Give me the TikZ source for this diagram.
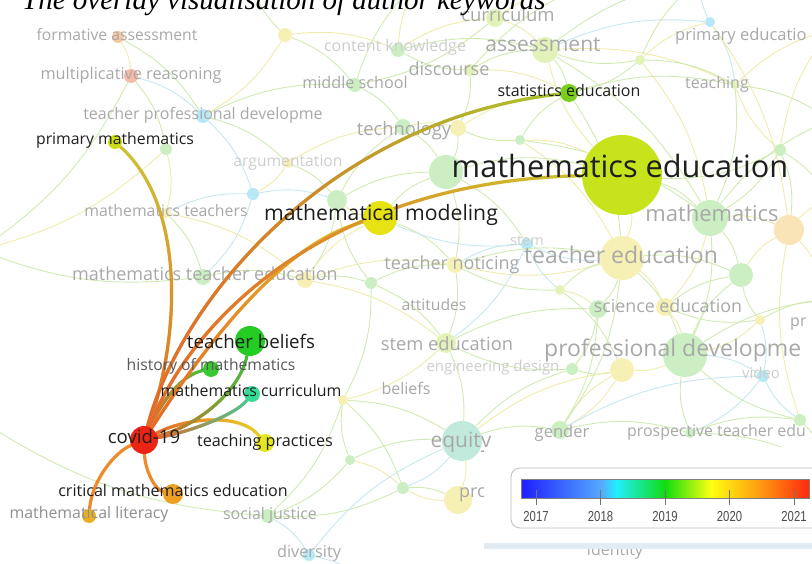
\documentclass[tikz,border=0pt]{standalone}
\usepackage{fontspec}
\setmainfont{Open Sans}
\newfontfamily\titlefont{Liberation Serif}
\newfontfamily\yearfont[FakeStretch=0.78]{Liberation Sans}
\usetikzlibrary{fadings}

% keyword colours (overlay years)
\definecolor{keyblack}{HTML}{1E1E1E}
\definecolor{fadegray}{HTML}{A8A8A8}
\definecolor{palegray}{HTML}{CDCDCD}
\definecolor{mathedlime}{HTML}{C6E31C}
\definecolor{modelyellow}{HTML}{E6E214}
\definecolor{statgreen}{HTML}{7ACF1E}
\definecolor{primlime}{HTML}{CCDC14}
\definecolor{beliefgreen}{HTML}{24CC24}
\definecolor{histgreen}{HTML}{38C830}
\definecolor{curteal}{HTML}{36DC96}
\definecolor{covidred}{HTML}{EC2414}
\definecolor{practyellow}{HTML}{E6E620}
\definecolor{critorange}{HTML}{EEA024}
\definecolor{litorange}{HTML}{E8B020}
% link ends
\definecolor{covidlink}{HTML}{E8682C}
\definecolor{primlink}{HTML}{CCC432}
\definecolor{statlink}{HTML}{A8C62C}
\definecolor{modellink}{HTML}{E2C82A}
\definecolor{mathedlink}{HTML}{CCC42A}
\definecolor{belieflink}{HTML}{44BE3A}
\definecolor{histlink}{HTML}{44C23C}
\definecolor{currlink}{HTML}{48C890}
\definecolor{practlink}{HTML}{E6D224}
\definecolor{critlink}{HTML}{EC8A2C}
% faded keywords
\definecolor{fadegreen}{HTML}{CBEFC2}
\definecolor{fadeyellow}{HTML}{F7F0B4}
\definecolor{fadecyan}{HTML}{B6E8F6}
\definecolor{fadeorange}{HTML}{F8C8A2}
\definecolor{fadesalmon}{HTML}{F6BAA8}
\definecolor{fadelime}{HTML}{E2F2B8}
\definecolor{fadeteal}{HTML}{C2EADC}
\definecolor{fadepeach}{HTML}{F8E4B6}
\definecolor{netgreen}{HTML}{D0EAB2}
\definecolor{netyellow}{HTML}{EFEBAC}
\definecolor{netcyan}{HTML}{C8E6F0}
% legend
\definecolor{barblue}{HTML}{1E1EFF}
\definecolor{barsky}{HTML}{55AAFF}
\definecolor{barcyan}{HTML}{22EEFF}
\definecolor{bargreen}{HTML}{10DC10}
\definecolor{baryellow}{HTML}{FFFF10}
\definecolor{barorange}{HTML}{FF9A10}
\definecolor{barred}{HTML}{FF2810}
\definecolor{stripblue}{HTML}{E2EAF2}

\pgfdeclarehorizontalshading{overlay}{100bp}{color(0bp)=(barblue); color(25bp)=(barblue); color(39bp)=(barsky); color(41.5bp)=(barcyan); color(50bp)=(bargreen); color(58bp)=(baryellow); color(66.5bp)=(barorange); color(75bp)=(barred); color(100bp)=(barred)}

\tikzfading[name=linkfade right, left color=transparent!0, right color=transparent!100]
\tikzfading[name=linkfade up, bottom color=transparent!0, top color=transparent!100]

\pgfdeclarelayer{net}
\pgfdeclarelayer{links}
\pgfsetlayers{net,links,main}

\begin{document}
\begin{tikzpicture}[
    x=1pt, y=-1pt,
    hub/.style={circle, inner sep=0pt, minimum size=#1},
    kw/.style={text=keyblack, inner sep=0pt, text height=1.5ex, text depth=0.25ex,
        font=\fontsize{#1}{#1}\selectfont},
    faded/.style={text=fadegray, inner sep=0pt, text height=1.5ex, text depth=0.25ex,
        font=\fontsize{#1}{#1}\selectfont},
    link/.style={line width=3.2pt, draw=#1, line cap=round},
    net/.style={line width=0.9pt, draw=#1},
    yearlbl/.style={text=black!70, inner sep=0pt, font=\yearfont\fontsize{14.5}{14.5}\selectfont},
    ]
    \useasboundingbox (0,0) rectangle (812,564);

    % title, cut at the top edge
    \node[anchor=base west, inner sep=0pt, font=\titlefont\itshape\fontsize{29}{29}\selectfont]
        (title) at (22,10) {The overlay visualisation of author keywords};

    % highlighted keywords
    \node[hub=80, fill=mathedlime] (mathed) at (622,175) {};
    \node[hub=34, fill=modelyellow] (model) at (380,218) {};
    \node[hub=18, fill=statgreen] (stat) at (569,93) {};
    \node[hub=14, fill=primlime] (prim) at (115,142) {};
    \node[hub=30, fill=beliefgreen] (belief) at (250,341) {};
    \node[hub=16, fill=histgreen] (hist) at (211,369) {};
    \node[hub=16, fill=curteal] (curr) at (252,394) {};
    \node[hub=28, fill=covidred] (covid) at (144,440) {};
    \node[hub=18, fill=practyellow] (pract) at (265,443) {};
    \node[hub=20, fill=critorange] (crit) at (173,494) {};
    \node[hub=14, fill=litorange] (lit) at (89,516) {};

    % links of covid-19, orange at covid-19 fading into the other end
    \begin{pgfonlayer}{links}
    \draw[link=critlink] (covid) .. controls (115,452) and (92,480) .. (lit);
    \draw[link=critlink] (covid) .. controls (145,470) and (155,490) .. (crit);
    \draw[link=practlink] (covid) .. controls (185,418) and (240,412) .. (pract);
    \draw[link=covidlink, path fading=linkfade right] (covid) .. controls (185,418) and (240,412) .. (pract);
    \draw[link=currlink] (covid) .. controls (190,432) and (235,415) .. (curr);
    \draw[link=covidlink, path fading=linkfade right] (covid) .. controls (190,432) and (235,415) .. (curr);
    \draw[link=histlink] (covid) .. controls (160,405) and (180,375) .. (hist);
    \draw[link=covidlink, path fading=linkfade right] (covid) .. controls (160,405) and (180,375) .. (hist);
    \draw[link=belieflink] (covid) .. controls (200,425) and (240,390) .. (belief);
    \draw[link=covidlink, path fading=linkfade right] (covid) .. controls (200,425) and (240,390) .. (belief);
    \draw[link=primlink] (covid) .. controls (185,320) and (180,200) .. (prim);
    \draw[link=covidlink, path fading=linkfade up] (covid) .. controls (185,320) and (180,200) .. (prim);
    \draw[link=statlink] (covid) .. controls (180,300) and (330,120) .. (stat);
    \draw[link=covidlink, path fading=linkfade right] (covid) .. controls (180,300) and (330,120) .. (stat);
    \draw[link=modellink] (covid) .. controls (215,330) and (290,240) .. (model);
    \draw[link=covidlink, path fading=linkfade right] (covid) .. controls (215,330) and (290,240) .. (model);
    \draw[link=mathedlink] (covid) .. controls (200,300) and (350,180) .. (mathed);
    \draw[link=covidlink, path fading=linkfade right] (covid) .. controls (200,300) and (350,180) .. (mathed);
    \end{pgfonlayer}

    % faded network behind
    \begin{pgfonlayer}{net}
    \foreach \name/\px/\py/\sz/\col in {
        fa/118/37/12/fadeorange, mr/131/76/14/fadesalmon, tpd/203/116/14/fadecyan,
        pmx/166/149/12/fadegreen, arg/288/163/10/fadeyellow, cyb/253/194/12/fadecyan,
        mtc/166/213/10/fadeyellow, gra/337/200/20/fadegreen, mtea/203/277/16/fadegreen,
        mteb/305/280/16/fadeyellow, grb/371/283/12/fadegreen, cka/285/35/14/fadeyellow,
        ckb/398/50/14/fadegreen, asm/545/50/26/fadelime, cur/495/18/18/fadelime,
        ms/355/85/14/fadegreen, pe/710/22/10/fadecyan, teach/735/85/8/fadelime,
        tca/403/127/16/fadegreen, tcb/458/128/16/fadeyellow, grc/446/172/34/fadegreen,
        math/710/218/36/fadegreen, ora/789/230/30/fadepeach, stem/527/244/12/fadecyan,
        tn/455/265/16/fadeyellow, te/622/258/44/fadeyellow, grd/741/275/24/fadegreen,
        sea/598/309/18/fadegreen, seb/665/307/18/fadeyellow, sted/446/343/20/fadelime,
        pda/685/355/44/fadegreen, pdb/622/370/24/fadeyellow, eng/572/369/12/fadegreen,
        vid/763/376/12/fadecyan, bly/343/400/10/fadeyellow, eq/462/441/40/fadeteal,
        gen/560/430/18/fadegreen, pro/458/500/28/fadeyellow, sj/268/516/14/fadegreen,
        div/309/555/12/fadecyan, gre/403/488/12/fadegreen, ptea/690/433/10/fadegreen,
        dsc/470/70/12/fadelime, ptb/800/420/12/fadegreen, grf/520/140/10/fadegreen,
        grg/640/60/10/fadelime, grh/780/150/12/fadegreen, gri/560/290/10/fadelime,
        grj/350/460/10/fadegreen, grk/760/320/10/fadeyellow}
        \node[hub=\sz, fill=\col] (\name) at (\px,\py) {};

    \coordinate (offa) at (830,120);
    \coordinate (offb) at (830,300);
    \coordinate (offc) at (830,470);
    \coordinate (offd) at (600,-20);
    \coordinate (offe) at (250,-20);
    \coordinate (offf) at (-20,250);
    \coordinate (offg) at (380,590);
    \coordinate (offh) at (-20,420);
    \coordinate (offi) at (700,-20);
    \coordinate (offj) at (830,30);
    \coordinate (offk) at (830,200);
    \coordinate (offl) at (420,-20);

    \foreach \a/\b/\col in {
        fa/mr/netyellow, fa/tpd/netgreen, mr/tpd/netcyan, mr/pmx/netgreen, tpd/arg/netgreen,
        tpd/ms/netgreen, tpd/cyb/netcyan, pmx/mtc/netyellow, arg/gra/netgreen, arg/tca/netyellow,
        cyb/gra/netcyan, cyb/mtea/netcyan, mtc/mtea/netgreen, mtc/mteb/netyellow, gra/tca/netgreen,
        gra/grc/netgreen, mteb/grb/netgreen, mteb/tn/netyellow, grb/sted/netgreen, grb/tn/netgreen,
        cka/ckb/netyellow, cka/ms/netgreen, ckb/asm/netgreen, ckb/cur/netyellow, cur/asm/netyellow,
        asm/stat/netgreen, asm/pe/netcyan, asm/teach/netyellow, ms/tca/netgreen, tca/tcb/netyellow,
        tcb/grc/netgreen, tcb/stat/netyellow, grc/mathed/netgreen, grc/tn/netgreen, mathed/math/netgreen,
        mathed/te/netyellow, mathed/asm/netyellow, math/ora/netyellow, math/grd/netgreen, te/tn/netyellow,
        te/stem/netcyan, te/sea/netgreen, te/seb/netyellow, te/grd/netgreen, te/pda/netgreen,
        stem/sted/netcyan, sea/eng/netgreen, seb/pda/netyellow, pda/pdb/netyellow, pda/vid/netcyan,
        pda/grd/netgreen, pdb/eng/netgreen, pdb/gen/netyellow, sted/bly/netyellow, sted/eq/netgreen,
        eq/gen/netgreen, eq/pro/netyellow, eq/gre/netcyan, gen/ptea/netgreen, ptea/pda/netgreen,
        pro/gre/netyellow, gre/sj/netgreen, sj/div/netcyan, div/eq/netcyan, bly/eq/netgreen,
        teach/math/netgreen, pe/teach/netcyan, pe/ora/netyellow, vid/ptea/netcyan, teach/offa/netgreen,
        ora/offb/netyellow, ptea/offc/netgreen, cur/offd/netyellow, cka/offe/netgreen, mtea/offf/netgreen,
        div/offg/netcyan, math/offa/netgreen, pda/offb/netgreen, sea/gen/netgreen, tn/sted/netgreen,
        mteb/sted/netyellow, gra/mteb/netgreen, stat/te/netgreen, asm/math/netgreen, grd/ora/netyellow,
        pmx/offf/netyellow, sj/offh/netgreen, bly/sj/netgreen, tn/stem/netcyan, model/tn/netgreen,
        model/grc/netgreen, model/gra/netyellow, eng/sted/netgreen, seb/grd/netgreen, gen/pdb/netyellow,
        dsc/ckb/netgreen, dsc/stat/netyellow, dsc/asm/netgreen, dsc/tcb/netgreen, grf/stat/netgreen,
        grf/te/netyellow, grf/math/netgreen, grf/tcb/netgreen, grf/mathed/netyellow, ptb/pda/netgreen,
        ptb/ora/netyellow, ptb/vid/netcyan, ptb/offc/netgreen, pe/offi/netcyan, teach/offj/netyellow,
        asm/offi/netgreen, cur/ms/netgreen, cka/tpd/netyellow, mr/offf/netgreen, mtc/cyb/netcyan,
        mteb/model/netyellow, grb/bly/netgreen, bly/gre/netgreen, gre/pro/netgreen, eq/eng/netgreen,
        eq/pdb/netyellow, sted/sea/netgreen, tn/te/netgreen, stem/model/netcyan, grc/stem/netgreen,
        math/pda/netgreen, math/seb/netyellow, te/gen/netgreen, gen/vid/netcyan, ptea/ptb/netgreen,
        stat/teach/netgreen, tca/grc/netgreen, arg/cyb/netyellow, mtea/mteb/netgreen, grb/gra/netgreen,
        grg/asm/netgreen, grg/pe/netyellow, grg/stat/netgreen, grg/teach/netgreen, grg/math/netyellow,
        grg/offi/netgreen, grh/math/netgreen, grh/teach/netyellow, grh/ora/netgreen, grh/offk/netgreen,
        grh/offj/netyellow, grh/mathed/netgreen, gri/te/netgreen, gri/sea/netyellow, gri/stem/netcyan,
        gri/pdb/netgreen, gri/tn/netgreen, grk/pda/netyellow, grk/grd/netgreen, grk/vid/netcyan,
        grk/offb/netgreen, grk/seb/netgreen, grj/bly/netgreen, grj/gre/netyellow, grj/sj/netgreen,
        grj/eq/netgreen, ms/offl/netgreen, ckb/offl/netyellow, dsc/offd/netgreen, ora/offk/netyellow}
        \draw[net=\col] (\a) to[bend left=14] (\b);

    % faded labels
    \node[faded=15.7] (lfa) at (117,37) {formative assessment};
    \node[faded=16.3] (lmr) at (131,76) {multiplicative reasoning};
    \node[faded=16] (ltpd) at (203,116) {teacher professional developme};
    \node[faded=15.7, text=palegray] (larg) at (288,163) {argumentation};
    \node[faded=15.8] (lmtc) at (166,213) {mathematics teachers};
    \node[faded=18] (lmte) at (205,277) {mathematics teacher education};
    \node[faded=18.5] (lcur) at (508,18) {curriculum};
    \node[faded=16, text=palegray] (lck) at (395,48) {content knowledge};
    \node[faded=21] (lasm) at (543,48) {assessment};
    \node[faded=18] (ldisc) at (449,72) {discourse};
    \node[faded=16.2] (lms) at (355,85) {middle school};
    \node[faded=16.5, anchor=west] (lpe) at (675,37) {primary educatio};
    \node[faded=16] (lteach) at (717,85) {teaching};
    \node[faded=18.4] (ltech) at (404,132) {technology};
    \node[faded=22] (lmath) at (712,218) {mathematics};
    \node[faded=14.5, text=palegray] (lstem) at (527,242) {stem};
    \node[faded=18] (ltn) at (452,266) {teacher noticing};
    \node[faded=23] (lte) at (621,260) {teacher education};
    \node[faded=15.7] (latt) at (434,307) {attitudes};
    \node[faded=17.8] (lse) at (668,309) {science education};
    \node[faded=16, anchor=west] (lpr) at (790,323) {pr};
    \node[faded=18.3] (lsted) at (447,347) {stem education};
    \node[faded=23, anchor=west] (lpd) at (544,353) {professional developme};
    \node[faded=15, text=palegray] (leng) at (493,368) {engineering design};
    \node[faded=15, text=palegray] (lvid) at (761,375) {video};
    \node[faded=16] (lbel) at (406,391) {beliefs};
    \node[faded=21] (leq) at (461,444) {equity};
    \node[faded=16.5] (lgen) at (562,434) {gender};
    \node[faded=15.9, anchor=west] (lptea) at (627,433) {prospective teacher edu};
    \node[faded=18, anchor=west] (lpro) at (459,494) {pro};
    \node[faded=16] (lsj) at (270,516) {social justice};
    \node[faded=16.3] (ldiv) at (309,554) {diversity};
    \node[faded=16] (lid) at (615,552) {identity};
    \end{pgfonlayer}

    % highlighted labels
    \node[kw=30.7] (lmathed) at (620,174) {mathematics education};
    \node[kw=21.2] (lmodel) at (381,217) {mathematical modeling};
    \node[kw=16] (lstat) at (569,93) {statistics education};
    \node[kw=15.8] (lprim) at (115,141) {primary mathematics};
    \node[kw=18.7] (lbelief) at (251,345) {teacher beliefs};
    \node[kw=15.7, text=black!65] (lhist) at (211,367) {history of mathematics};
    \node[kw=15.9] (lcurr) at (251,393) {mathematics curriculum};
    \node[kw=18.6] (lcovid) at (144,440) {covid-19};
    \node[kw=16.2] (lpract) at (265,443) {teaching practices};
    \node[kw=16.1] (lcrit) at (173,493) {critical mathematics education};
    \node[kw=15.9, text=fadegray!85!black] (llit) at (89,515) {mathematical literacy};

    % year legend
    \fill[white] (484,447) rectangle (812,543);
    \fill[stripblue] (484,543) rectangle (812,549);
    \draw[black!25, line width=0.8pt, rounded corners=9pt] (511,468) rectangle (830,528);
    \shade[shading=overlay, draw=black!50, line width=0.8pt] (521,479) rectangle (809,498);
    \foreach \yr [count=\i from 0] in {2017,2018,2019,2020,2021} {
        \draw[black!55, line width=0.8pt] ({536+64.5*\i},490) -- ++(0,15);
        \node[yearlbl] (y\yr) at ({536+64.5*\i},517) {\yr};
    }
\end{tikzpicture}
\end{document}
